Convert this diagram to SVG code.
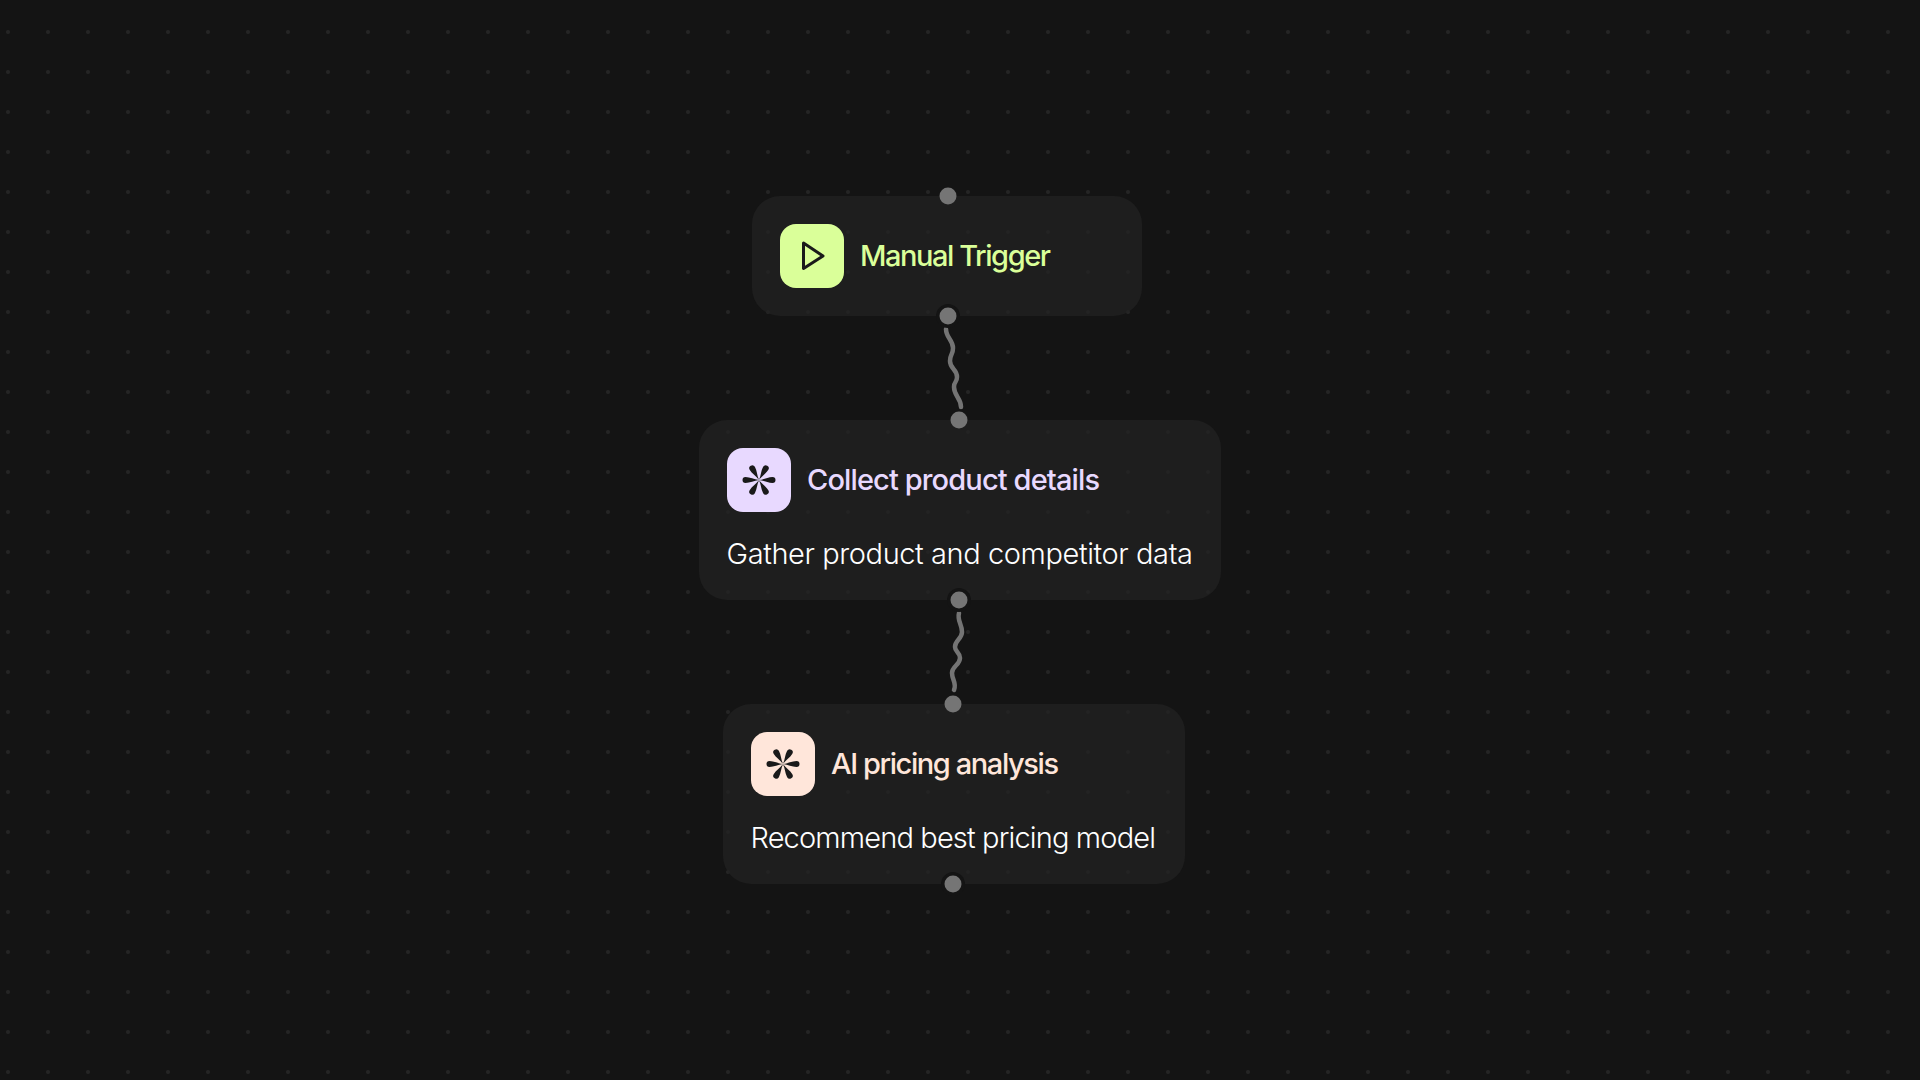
<svg xmlns="http://www.w3.org/2000/svg" width="1920" height="1080" viewBox="0 0 1920 1080">
<style>
.card{fill:#222222;fill-opacity:.7}
.head{font-family:"Inter","Noto Sans",sans-serif;font-size:29px;font-weight:450}
.desc{font-family:"Inter","Noto Sans",sans-serif;font-size:29px;font-weight:300;fill:#ffffff}
.wire{fill:none;stroke:#747474;stroke-width:4.500;stroke-linecap:round}
.port{fill:#757575}
.halo{fill:#141414}
.glyph{fill:#1a1a1a}
</style>
<defs>
<pattern id="dots" patternUnits="userSpaceOnUse" width="40" height="40"><circle cx="8" cy="32" r="2" fill="#252525"/></pattern>
<g id="star">
<path id="p" class="glyph" d="M0 0C-.4-5-3-9-3-13.500A3 3 0 0 1 3-13.500C3-9 .4-5 0 0Z" transform="rotate(30)"/>
<use href="#p" transform="rotate(60)"/><use href="#p" transform="rotate(120)"/><use href="#p" transform="rotate(180)"/><use href="#p" transform="rotate(240)"/><use href="#p" transform="rotate(300)"/>
</g>
</defs>
<rect width="1920" height="1080" fill="#141414"/>
<rect width="1920" height="1080" fill="url(#dots)"/>
<g id="connectors">
<path class="wire" d="M946 329C946 338 953 340 953 348C953 355 950 354 950 361C950 369 957 369 957 377C957 383 954 381 954 387C954 396 961 398 961 407"/>
<path class="wire" d="M959 613C957 621 962 624 962 632C962 639 955 640 955 647C955 652 960 652 960 658C960 665 952 666 952 673C952 680 957 683 954 690"/>
</g>
<g id="node-manual-trigger">
<rect class="card" x="752" y="196" width="390" height="120" rx="28"/>
<rect x="780" y="224" width="64" height="64" rx="16" fill="#DAFF99"/>
<path d="M803.500 243L823 256L803.500 268.500Z" fill="none" stroke="#1a1a1a" stroke-width="3" stroke-linejoin="round"/>
<text class="head" x="860" y="266" fill="#DAFF99" textLength="191">Manual Trigger</text>
<circle class="port" cx="948" cy="196" r="8.500"/>
<circle class="halo" cx="948" cy="316" r="12"/>
<circle class="port" cx="948" cy="316" r="8.500"/>
</g>
<g id="node-collect-product-details">
<rect class="card" x="699" y="420" width="522" height="180" rx="28"/>
<rect x="727" y="448" width="64" height="64" rx="16" fill="#E8D9FF"/>
<use href="#star" x="759" y="480"/>
<text class="head" x="807" y="490" fill="#E8D9FF" textLength="293">Collect product details</text>
<text class="desc" x="726.500" y="564" textLength="466.500">Gather product and competitor data</text>
<circle class="port" cx="959" cy="420" r="8.500"/>
<circle class="halo" cx="959" cy="600" r="12"/>
<circle class="port" cx="959" cy="600" r="8.500"/>
</g>
<g id="node-ai-pricing-analysis">
<rect class="card" x="723" y="704" width="462" height="180" rx="28"/>
<rect x="751" y="732" width="64" height="64" rx="16" fill="#FFE6DA"/>
<use href="#star" x="783" y="764"/>
<text class="head" x="831" y="774" fill="#FFE6DA" textLength="228">AI pricing analysis</text>
<text class="desc" x="750.500" y="848" textLength="405.500">Recommend best pricing model</text>
<circle class="port" cx="953" cy="704" r="8.500"/>
<circle class="halo" cx="953" cy="884" r="12"/>
<circle class="port" cx="953" cy="884" r="8.500"/>
</g>
</svg>
